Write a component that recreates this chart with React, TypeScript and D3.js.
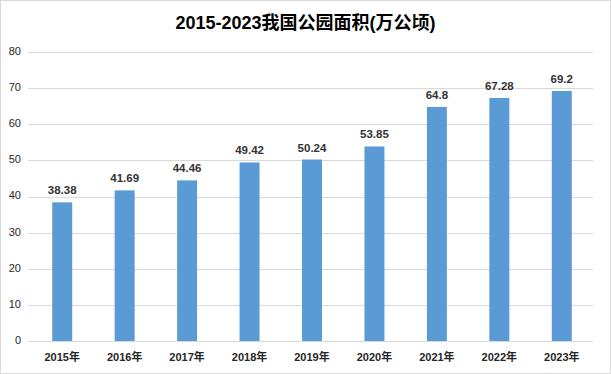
import { useMemo } from 'react';
import * as d3 from 'd3';

// ---------------------------------------------------------------------------
// Data
// ---------------------------------------------------------------------------

const YEARS = ['2015年', '2016年', '2017年', '2018年', '2019年', '2020年', '2021年', '2022年', '2023年'];
const VALUES = [38.38, 41.69, 44.46, 49.42, 50.24, 53.85, 64.8, 67.28, 69.2];
const Y_TICKS = [0, 10, 20, 30, 40, 50, 60, 70, 80];
const TITLE = '2015-2023我国公园面积(万公顷)';

// ---------------------------------------------------------------------------
// Styles
// ---------------------------------------------------------------------------

const W = 611;
const H = 374;
const BAR_COLOR = '#5b9bd5';
const GRID_COLOR = '#d9d9d9';
const TEXT_COLOR = '#262626';
const FONT = '"Liberation Sans", "Noto Sans CJK SC", sans-serif';

export default function App() {
  const margin = { top: 52, right: 18, bottom: 33, left: 31 };
  const innerW = W - margin.left - margin.right;
  const innerH = H - margin.top - margin.bottom;

  const x = useMemo(
    () => d3.scaleBand<string>().domain(YEARS).range([0, innerW]).paddingInner(0.68).paddingOuter(0.34),
    [innerW]
  );
  const y = useMemo(() => d3.scaleLinear().domain([0, 80]).range([innerH, 0]), [innerH]);

  return (
    <svg
      width={W}
      height={H}
      style={{ position: 'absolute', left: 0, top: 0, background: '#fff' }}
      fontFamily={FONT}
    >
      <rect x={0.5} y={0.5} width={W - 1} height={H - 1} fill="#fff" stroke={GRID_COLOR} />

      <text
        x={W / 2}
        y={29}
        textAnchor="middle"
        fontSize={18}
        fontWeight="bold"
        fill="#000"
      >
        {TITLE}
      </text>

      <g transform={`translate(${margin.left},${margin.top})`}>
        {/* Grid lines */}
        {Y_TICKS.map((t) => (
          <line
            key={t}
            x1={-3}
            x2={innerW}
            y1={Math.round(y(t)) + 0.5}
            y2={Math.round(y(t)) + 0.5}
            stroke={GRID_COLOR}
          />
        ))}

        {/* Y labels */}
        {Y_TICKS.map((t) => (
          <text
            key={t}
            x={-10}
            y={y(t)}
            textAnchor="end"
            dominantBaseline="middle"
            fontSize={11}
            fill={TEXT_COLOR}
          >
            {t}
          </text>
        ))}

        {/* Bars */}
        {YEARS.map((yr, i) => (
          <rect
            key={yr}
            x={x(yr)}
            y={y(VALUES[i])}
            width={x.bandwidth()}
            height={innerH - y(VALUES[i])}
            fill={BAR_COLOR}
          />
        ))}

        {/* Value labels */}
        {YEARS.map((yr, i) => (
          <text
            key={yr}
            x={(x(yr) ?? 0) + x.bandwidth() / 2}
            y={y(VALUES[i]) - 8}
            textAnchor="middle"
            fontSize={11.5}
            fontWeight="bold"
            fill="#333"
          >
            {VALUES[i]}
          </text>
        ))}

        {/* X labels */}
        {YEARS.map((yr) => (
          <text
            key={yr}
            x={(x(yr) ?? 0) + x.bandwidth() / 2}
            y={innerH + 20}
            textAnchor="middle"
            fontSize={11}
            fontWeight="bold"
            fill={TEXT_COLOR}
          >
            {yr}
          </text>
        ))}
      </g>
    </svg>
  );
}
